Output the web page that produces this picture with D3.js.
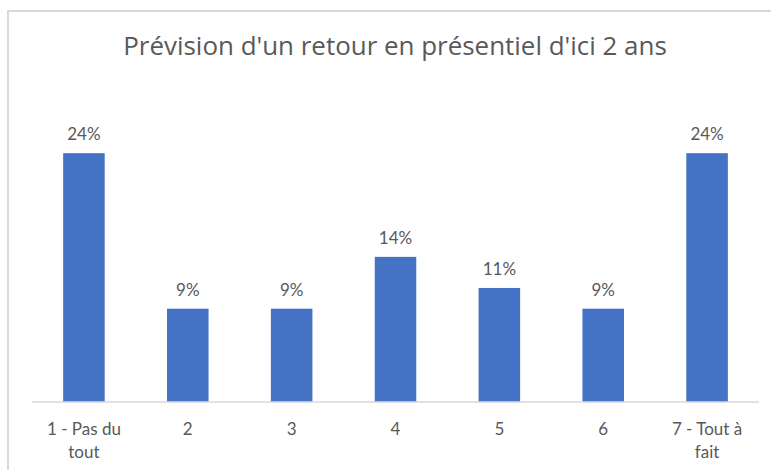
<!DOCTYPE html>
<html>
<head>
<meta charset="utf-8">
<script src="https://cdn.jsdelivr.net/npm/d3@7"></script>
<style>
  body { margin: 0; background: #fff; }
  text { font-family: Lato, "Open Sans", sans-serif; fill: #595959; }
</style>
</head>
<body>
<svg id="chart" width="771" height="470"></svg>
<script>
// chart data
var title = "Prévision d'un retour en présentiel d'ici 2 ans";
var categories = ["1 - Pas du tout", "2", "3", "4", "5", "6", "7 - Tout à fait"];
var values = [0.24, 0.09, 0.09, 0.14, 0.11, 0.09, 0.24];
var yDomain = [0, 0.3];

var svg = d3.select("#chart");

// light gray frame of the chart area (right and bottom edges fall outside the picture)
svg.append("rect")
  .attr("x", 8)
  .attr("y", 11)
  .attr("width", 800)
  .attr("height", 500)
  .attr("fill", "none")
  .attr("stroke", "#d9d9d9")
  .attr("stroke-width", 2);

var titleText = svg.append("text")
  .attr("x", 395)
  .attr("y", 55)
  .attr("text-anchor", "middle")
  .style("font-family", "'Open Sans', sans-serif")
  .style("font-size", "20px")
  .text(title);

// size the title so it is as wide as in the original (about 544px)
var titleWidth = titleText.node().getComputedTextLength();
titleText.style("font-size", (20 * 544 / titleWidth) + "px");

var plot = { left: 32, right: 759, top: 91, bottom: 402 };

// bars take 40% of each step (gap width 150%)
var x = d3.scaleBand()
  .domain(categories)
  .range([plot.left, plot.right])
  .paddingInner(0.6)
  .paddingOuter(0.3);

var y = d3.scaleLinear()
  .domain(yDomain)
  .range([plot.bottom, plot.top]);

var data = categories.map(function(c, i) {
  return { cat: c, value: values[i] };
});

svg.selectAll(".bar")
  .data(data)
  .enter()
  .append("rect")
  .attr("class", "bar")
  .attr("x", function(d) { return x(d.cat); })
  .attr("y", function(d) { return y(d.value); })
  .attr("width", x.bandwidth())
  .attr("height", function(d) { return y(0) - y(d.value); })
  .attr("fill", "#4472c4");

// value labels above the bars
svg.selectAll(".barValue")
  .data(data)
  .enter()
  .append("text")
  .attr("class", "barValue")
  .attr("x", function(d) { return x(d.cat) + x.bandwidth() / 2; })
  .attr("y", function(d) { return y(d.value) - 13; })
  .attr("text-anchor", "middle")
  .style("font-size", "17px")
  .text(function(d) { return d3.format(".0%")(d.value); });

// category axis: line only, no tick marks
var axis = svg.append("g")
  .attr("transform", "translate(0," + plot.bottom + ")")
  .call(d3.axisBottom(x).tickSize(0).tickPadding(0));

axis.select(".domain")
  .attr("d", "M" + plot.left + ",0H" + plot.right)
  .attr("stroke", "#d9d9d9")
  .attr("stroke-width", 1.5);

axis.selectAll(".tick text")
  .attr("fill", "#595959")
  .style("font-family", "Lato, 'Open Sans', sans-serif")
  .style("font-size", "17px")
  .call(wrap, x.step() - 14);

// wrap long tick labels onto several lines (after Mike Bostock's wrap)
function wrap(sel, width) {
  sel.each(function() {
    var text = d3.select(this);
    var words = text.text().split(/\s+/);
    var line = [];
    var lineNumber = 0;
    var lineHeight = 23;
    text.text(null);
    var tspan = text.append("tspan").attr("x", 0).attr("y", 33);
    words.forEach(function(word) {
      line.push(word);
      tspan.text(line.join(" "));
      if (tspan.node().getComputedTextLength() > width && line.length > 1) {
        line.pop();
        tspan.text(line.join(" "));
        line = [word];
        lineNumber++;
        tspan = text.append("tspan")
          .attr("x", 0)
          .attr("y", 33 + lineNumber * lineHeight)
          .text(word);
      }
    });
    text.attr("dy", null);
  });
}
</script>
</body>
</html>
